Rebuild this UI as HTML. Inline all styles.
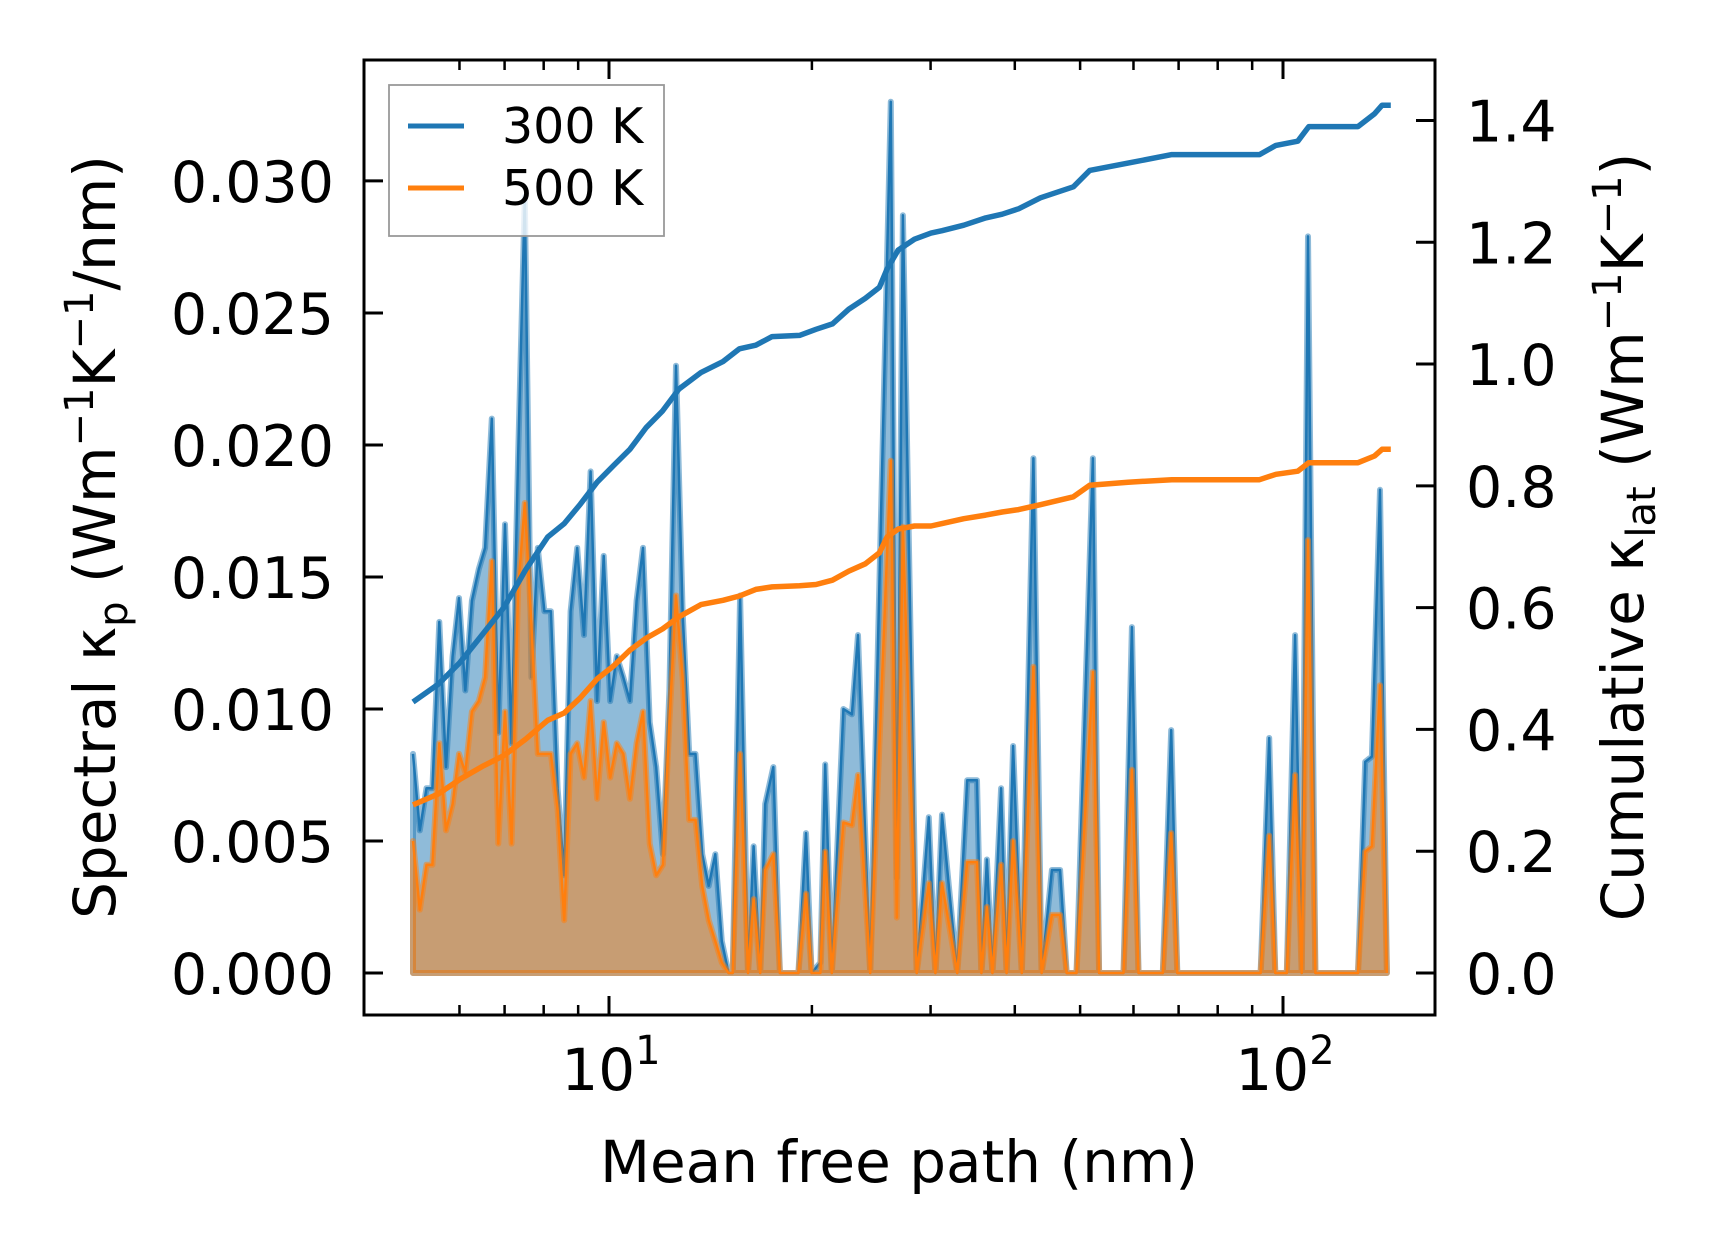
<!DOCTYPE html>
<html><head><meta charset="utf-8"><style>
html,body{margin:0;padding:0;background:#fff}
svg{display:block}
text{font-family:"DejaVu Sans","Liberation Sans",sans-serif;fill:#000}
</style></head><body>
<svg id="chart" width="1716" height="1254" viewBox="0 0 1716 1254" xmlns="http://www.w3.org/2000/svg">
<rect width="1716" height="1254" fill="#fff"/>
<g id="plot"></g>
<g id="axes"></g>
<g>
<rect x="389" y="85" width="275" height="151" fill="#fff" fill-opacity="0.8" stroke="#999" stroke-width="1.8"/>
<line x1="408" y1="126" x2="464" y2="126" stroke="#1f77b4" stroke-width="5"/>
<text x="502" y="143" font-size="49">300 K</text>
<line x1="408" y1="188" x2="464" y2="188" stroke="#ff7f0e" stroke-width="5"/>
<text x="502" y="205" font-size="49">500 K</text>
</g>
<text x="899" y="1182" font-size="58" text-anchor="middle">Mean free path (nm)</text>
<text transform="translate(115,537) rotate(-90)" font-size="58" text-anchor="middle">Spectral κ<tspan font-size="40" dy="12">p</tspan><tspan dy="-12"> (Wm</tspan><tspan font-size="40" dy="-22">−1</tspan><tspan dy="22">K</tspan><tspan font-size="40" dy="-22">−1</tspan><tspan dy="22">/nm)</tspan></text>
<text transform="translate(1643,537) rotate(-90)" font-size="58" text-anchor="middle">Cumulative κ<tspan font-size="40" dy="12">lat</tspan><tspan dy="-12"> (Wm</tspan><tspan font-size="40" dy="-22">−1</tspan><tspan dy="22">K</tspan><tspan font-size="40" dy="-22">−1</tspan><tspan dy="22">)</tspan></text>
</svg>
<script>
const mfp = [5.12,5.24,5.36,5.47,5.60,5.73,5.86,5.99,6.12,6.26,6.41,6.55,6.70,6.85,7.01,7.17,7.33,7.50,7.67,7.84,8.02,8.20,8.39,8.58,8.77,8.97,9.18,9.39,9.60,9.82,10.04,10.27,10.50,10.74,10.99,11.23,11.49,11.75,12.02,12.29,12.57,12.86,13.15,13.44,13.75,14.06,14.38,14.70,15.04,
15.26,15.65,16.08,16.39,16.76,17.05,17.53,17.93,19.10,19.60,19.98,20.59,20.93,21.41,22.27,22.93,23.41,24.41,26.19,26.73,27.29,28.61,29.82,30.50,31.19,32.86,34.0,35.16,35.69,36.36,37.05,38.17,38.89,39.77,40.97,42.63,43.83,45.41,46.70,47.76,49.39,52.24,53.35,57.99,59.68,61.03,66.33,68.24,69.68,92.62,95.40,97.39,101.3,104.2,106.6,108.9,111.7,129.2,132.4,135.5,139.3,142.6];
const spec300 = [0.0083,0.0054,0.0070,0.0070,0.0133,0.0078,0.0120,0.0142,0.0107,0.0141,0.0153,0.0161,0.0210,0.0091,0.0170,0.0087,0.0195,0.0294,0.0112,0.0161,0.0137,0.0137,0.0070,0.0037,0.0137,0.0161,0.0128,0.0190,0.0103,0.0158,0.0103,0.0120,0.0112,0.0103,0.0141,0.0161,0.0095,0.0078,0.0045,0.0107,0.0230,0.0137,0.0083,0.0083,0.0045,0.0033,0.0045,0.0012,0,
0,0.0143,0,0.0048,0,0.0064,0.0078,0,0,0.0053,0,0.0004,0.0079,0,0.0100,0.0098,0.0128,0,0.0330,0.0036,0.0287,0,0.0059,0,0.0060,0,0.0073,0.0073,0,0.0043,0,0.0070,0,0.0086,0,0.0195,0,0.0039,0.0039,0,0,0.0195,0,0,0.0131,0,0,0.0092,0,0,0.0089,0,0,0.0128,0,0.0279,0,0,0.0080,0.0082,0.0183,0];
const spec500 = [0.0050,0.0024,0.0041,0.0041,0.0087,0.0054,0.0064,0.0083,0.0076,0.0099,0.0103,0.0112,0.0156,0.0049,0.0099,0.0049,0.0145,0.0178,0.0132,0.0083,0.0083,0.0083,0.0062,0.0020,0.0083,0.0087,0.0074,0.0103,0.0066,0.0095,0.0074,0.0087,0.0083,0.0066,0.0087,0.0099,0.0049,0.0037,0.0041,0.0095,0.0143,0.0112,0.0058,0.0058,0.0033,0.0020,0.0012,0.0004,0,
0,0.0083,0,0.0028,0,0.0039,0.0045,0,0,0.0030,0,0,0.0046,0,0.0057,0.0056,0.0075,0,0.0194,0.0021,0.0169,0,0.0034,0,0.0034,0,0.0042,0.0042,0,0.0025,0,0.0041,0,0.0050,0,0.0116,0,0.0022,0.0022,0,0,0.0114,0,0,0.0077,0,0,0.0053,0,0,0.0052,0,0,0.0075,0,0.0164,0,0,0.0046,0.0048,0.0109,0];
const cumMfp = [5.12,5.58,6.01,6.48,6.98,7.52,8.11,8.58,9.07,9.60,10.15,10.74,11.36,12.01,12.70,13.69,14.76,15.61,16.51,17.46,19.17,20.28,21.45,22.69,24.0,25.19,25.86,26.85,28.40,30.04,31.19,33.61,36.22,38.31,40.52,43.66,48.86,51.67,58.90,68.40,92.28,97.59,105.2,109.2,129.2,136.7,140.3,144.5];
const cum300 = [0.445,0.474,0.510,0.555,0.600,0.662,0.716,0.738,0.770,0.806,0.833,0.860,0.896,0.923,0.959,0.986,1.004,1.025,1.031,1.045,1.047,1.057,1.066,1.090,1.108,1.126,1.156,1.187,1.205,1.215,1.219,1.228,1.240,1.246,1.255,1.273,1.291,1.318,1.330,1.344,1.344,1.359,1.366,1.390,1.390,1.411,1.425,1.425];
const cum500 = [0.276,0.294,0.318,0.339,0.357,0.384,0.415,0.427,0.452,0.483,0.504,0.530,0.550,0.565,0.585,0.605,0.612,0.619,0.630,0.634,0.636,0.638,0.645,0.660,0.672,0.690,0.716,0.729,0.734,0.734,0.738,0.746,0.752,0.757,0.761,0.769,0.782,0.801,0.806,0.810,0.810,0.819,0.824,0.838,0.838,0.849,0.860,0.860];
const xTicksMajor = [10,100];
const xTickLabels = ["1","2"];
const xTicksMinor = [6,7,8,9,20,30,40,50,60,70,80,90,200];
const yLeftTicks = [0,0.005,0.010,0.015,0.020,0.025,0.030];
const yLeftLabels = ["0.000","0.005","0.010","0.015","0.020","0.025","0.030"];
const yRightTicks = [0,0.2,0.4,0.6,0.8,1.0,1.2,1.4];
const yRightLabels = ["0.0","0.2","0.4","0.6","0.8","1.0","1.2","1.4"];

const L=364,R=1435,T=60,B=1015;
const lx0=0.6365,lx1=2.2255;
const X=v=>L+(Math.log10(v)-lx0)/(lx1-lx0)*(R-L);
const yl0=-0.00159,yl1=0.03458;
const YL=v=>B-(v-yl0)/(yl1-yl0)*(B-T);
const yr0=-0.069,yr1=1.4993;
const YR=v=>B-(v-yr0)/(yr1-yr0)*(B-T);
const NS="http://www.w3.org/2000/svg";
const plot=document.getElementById('plot'), axes=document.getElementById('axes');
function mk(tag,attrs,parent){const e=document.createElementNS(NS,tag);for(const k in attrs)e.setAttribute(k,attrs[k]);parent.appendChild(e);return e;}

function specPath(vals){let d='';mfp.forEach((m,i)=>{d+=(i?'L':'M')+X(m).toFixed(1)+','+YL(vals[i]).toFixed(1);});return d;}
function fillPath(vals){return specPath(vals)+'L'+X(mfp[mfp.length-1]).toFixed(1)+','+YL(0).toFixed(1)+'L'+X(mfp[0]).toFixed(1)+','+YL(0).toFixed(1)+'Z';}
function cumPath(vals){let d='';cumMfp.forEach((m,i)=>{d+=(i?'L':'M')+X(m).toFixed(1)+','+YR(vals[i]).toFixed(1);});return d;}

const series=[[spec300,'#1f77b4','300k'],[spec500,'#ff7f0e','500k']];
series.forEach(([vals,c,n])=>{
  const f=mk('path',{d:fillPath(vals),fill:c,'fill-opacity':0.5,stroke:c,'stroke-opacity':0.5,'stroke-width':6,'stroke-linejoin':'round'},plot);
  
  
  const l=mk('path',{d:specPath(vals),fill:'none',stroke:c,'stroke-width':2.5,'stroke-linejoin':'round'},plot);
  
  
});
[[cum300,'#1f77b4','300k'],[cum500,'#ff7f0e','500k']].forEach(([vals,c,n])=>{
  const l=mk('path',{d:cumPath(vals),fill:'none',stroke:c,'stroke-width':5.5,'stroke-linejoin':'round'},plot);
  
  
});

const frame=mk('rect',{x:L,y:T,width:R-L,height:B-T,fill:'none',stroke:'#000','stroke-width':3},axes);


xTicksMajor.forEach((v,i)=>{
  const x=X(v);
  mk('line',{x1:x,y1:B,x2:x,y2:B-19,stroke:'#000','stroke-width':3},axes);
  mk('line',{x1:x,y1:T,x2:x,y2:T+19,stroke:'#000','stroke-width':3},axes);
  const t=mk('text',{x:x+2,y:1090,'font-size':58,'text-anchor':'middle'},axes);
  
  
  t.textContent='10';
  const s=mk('tspan',{'font-size':40,dy:-26},t);s.textContent=xTickLabels[i];
});
xTicksMinor.forEach(v=>{
  const x=X(v); if(x<L||x>R)return;
  mk('line',{x1:x,y1:B,x2:x,y2:B-10,stroke:'#000','stroke-width':2.5},axes);
  mk('line',{x1:x,y1:T,x2:x,y2:T+10,stroke:'#000','stroke-width':2.5},axes);
});
yLeftTicks.forEach((v,i)=>{
  const y=YL(v);
  mk('line',{x1:L,y1:y,x2:L+19,y2:y,stroke:'#000','stroke-width':3},axes);
  const t=mk('text',{x:334,y:y+21,'font-size':57,'text-anchor':'end'},axes);
  
  
  t.textContent=yLeftLabels[i];
});
yRightTicks.forEach((v,i)=>{
  const y=YR(v);
  mk('line',{x1:R,y1:y,x2:R-19,y2:y,stroke:'#000','stroke-width':3},axes);
  const t=mk('text',{x:1466,y:y+21,'font-size':57},axes);
  
  
  t.textContent=yRightLabels[i];
});
</script>
</body></html>
